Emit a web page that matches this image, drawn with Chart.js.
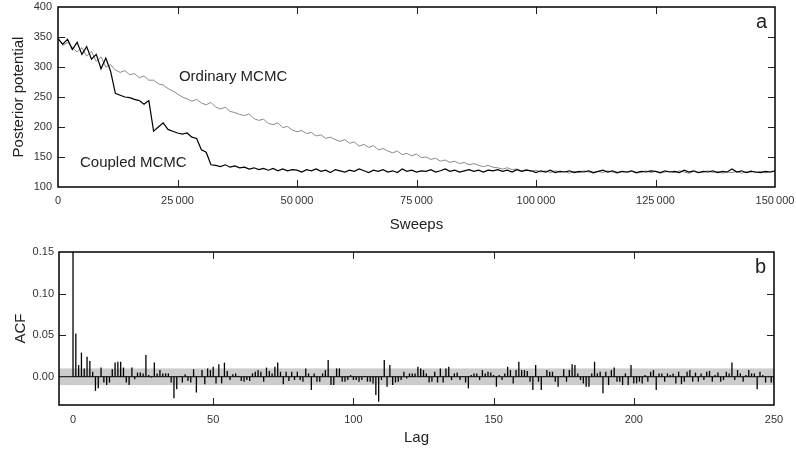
<!DOCTYPE html>
<html>
<head>
  <title>MCMC trace and ACF</title>
  <script src="https://cdn.jsdelivr.net/npm/chart.js"></script>
  <style>
    body { margin: 0; background: #fff; }
    #wrap { position: relative; width: 796px; height: 453px; }
    #topBox { position: absolute; left: 0; top: 0; }
    #bottomBox { position: absolute; left: 0; top: 240px; }
  </style>
</head>
<body>
  <div id="wrap">
    <div id="topBox"><canvas id="traceChart" width="796" height="240"></canvas></div>
    <div id="bottomBox"><canvas id="acfChart" width="796" height="213"></canvas></div>
  </div>

  <script>
    // trace samples are stored every sweepStep sweeps
    const sweepStep = 1000;

    const coupledPotential = [
      347,338,346,329,341,321,334,313,321,297,315,293,256,253,250,249,246,244,238,244,
      193,200,207,196,193,190,188,190,183,181,162,158,137,136,134,137,133,135,132,133,
      130,132,129,131,128,131,127,130,127,129,128,125,129,127,130,126,128,124,129,127,
      125,128,126,130,127,124,128,126,129,125,127,124,130,126,128,125,127,126,129,125,
      127,130,126,128,125,127,129,126,128,125,128,127,129,126,128,125,129,126,128,127,
      124,127,125,128,124,126,125,127,124,126,125,127,124,126,128,125,127,124,126,125,
      127,124,126,125,127,126,124,127,125,126,124,128,125,127,124,126,125,127,124,126,
      125,130,125,127,124,126,125,124,126,125,127
    ];

    const ordinaryPotential = [
      350,336,341,333,325,332,318,326,309,317,300,304,295,291,294,287,289,282,285,278,
      278,272,270,264,260,255,250,247,243,246,240,237,241,233,230,233,226,224,221,219,
      222,214,211,213,206,204,207,199,201,195,192,194,189,191,185,187,181,183,179,176,
      179,173,175,168,171,166,169,162,164,160,157,160,154,156,152,155,149,150,146,148,
      143,145,141,143,139,141,137,139,136,134,136,133,132,130,132,129,130,127,129,126,
      128,125,127,124,127,125,126,123,126,124,127,125,123,126,124,127,125,123,126,124,
      126,123,125,127,124,126,123,125,126,124,127,125,123,126,124,125,127,124,126,123,
      125,124,126,123,125,127,124,126,124,125,126
    ];

    const sweepTicks = [0, 25000, 50000, 75000, 100000, 125000, 150000];
    const potentialTicks = [100, 150, 200, 250, 300, 350, 400];

    // autocorrelation for lags 0..250
    const acfValues = [
      1, 0.052, 0.014, 0.029, 0.010, 0.024, 0.019, 0.006, -0.017, -0.014,
      0.011, -0.007, -0.010, -0.007, 0.009, 0.017, 0.018, 0.018, 0.011, -0.007,
      -0.010, 0.011, -0.003, 0.005, 0.005, 0.004, 0.026, 0.002, -0.001, 0.017,
      0.004, 0.008, 0.004, 0.004, 0.004, -0.007, -0.026, -0.015, 0.001, -0.007,
      0.003, -0.005, -0.007, 0.009, -0.019, 0.000, 0.008, -0.009, 0.010, 0.008,
      0.012, -0.008, 0.015, -0.008, 0.017, 0.007, -0.004, 0.003, 0.004, 0.001,
      -0.005, -0.006, -0.004, -0.005, 0.004, 0.006, 0.008, 0.006, -0.006, 0.011,
      0.007, 0.004, 0.012, 0.017, 0.006, -0.009, 0.006, -0.005, 0.006, -0.004,
      0.006, -0.004, -0.006, 0.010, 0.004, -0.016, 0.004, -0.006, -0.006, 0.004,
      0.008, 0.020, -0.010, -0.010, 0.010, 0.010, -0.006, -0.006, -0.004, 0.002,
      -0.004, -0.004, -0.006, -0.004, 0.001, -0.006, -0.006, -0.008, -0.022, -0.030,
      -0.004, 0.020, -0.012, 0.014, -0.010, -0.007, -0.006, -0.004, 0.006, -0.002,
      0.004, 0.004, 0.004, 0.012, 0.010, 0.008, 0.004, -0.007, -0.006, 0.006,
      -0.007, 0.010, -0.007, 0.010, 0.012, -0.004, 0.004, 0.005, -0.004, 0.001,
      -0.007, -0.014, 0.002, 0.004, 0.004, -0.004, 0.008, 0.004, 0.006, 0.005,
      0.002, -0.012, 0.002, -0.004, 0.004, 0.012, 0.008, -0.008, 0.008, 0.018,
      0.008, 0.008, 0.007, -0.006, -0.016, 0.014, -0.006, -0.016, 0.001, 0.008,
      0.006, 0.006, -0.006, -0.012, 0.001, 0.009, -0.006, 0.008, 0.015, 0.014,
      0.004, -0.004, -0.008, -0.012, -0.012, 0.004, 0.018, 0.004, 0.006, -0.020,
      0.006, -0.010, 0.008, 0.011, -0.006, -0.006, -0.010, 0.004, -0.010, 0.014,
      -0.008, -0.008, -0.006, -0.008, 0.002, -0.006, 0.006, 0.008, -0.016, 0.004,
      0.004, -0.006, 0.004, 0.002, 0.004, -0.008, 0.006, -0.009, -0.006, 0.006,
      0.008, -0.006, 0.005, -0.006, 0.004, -0.004, 0.006, 0.007, -0.006, 0.002,
      0.005, -0.006, -0.004, 0.006, 0.004, 0.017, -0.004, 0.008, 0.004, -0.006,
      0.002, 0.008, 0.004, 0.004, -0.015, 0.006, 0.002, -0.007, 0.001, -0.007,
      -0.007
    ];
    const lagTicks = [0, 50, 100, 150, 200, 250];
    const acfTicks = [0, 0.05, 0.10, 0.15];
    const acfBand = 0.01;

    const FONT = '"Liberation Sans", Arial, Helvetica, sans-serif';
    Chart.defaults.font.family = FONT;
    Chart.defaults.color = '#333';

    function groupDigits(v) {
      return String(v).replace(/\B(?=(\d{3})+(?!\d))/g, '\u2009');
    }

    // frame, inward tick marks, significance band and text labels
    const panelDecor = {
      id: 'panelDecor',
      beforeDatasetsDraw(chart, args, opts) {
        if (!opts.band) return;
        const { ctx, chartArea: a, scales: { x, y } } = chart;
        const y1 = y.getPixelForValue(opts.band);
        const y2 = y.getPixelForValue(-opts.band);
        const y0 = y.getPixelForValue(0);
        ctx.save();
        ctx.fillStyle = '#cccccc';
        ctx.fillRect(a.left, y1, a.right - a.left, y2 - y1);
        ctx.strokeStyle = '#000';
        ctx.lineWidth = 1;
        ctx.beginPath();
        ctx.moveTo(a.left, y0);
        ctx.lineTo(a.right, y0);
        ctx.stroke();
        ctx.restore();
      },
      afterDatasetsDraw(chart, args, opts) {
        const { ctx, chartArea: a, scales: { x, y } } = chart;
        const len = 7;
        ctx.save();
        ctx.strokeStyle = '#222';
        ctx.lineWidth = 1;
        ctx.beginPath();
        opts.xMarks.forEach(v => {
          const px = Math.round(x.getPixelForValue(v)) + 0.5;
          ctx.moveTo(px, a.top); ctx.lineTo(px, a.top + len);
          ctx.moveTo(px, a.bottom); ctx.lineTo(px, a.bottom - len);
        });
        opts.yMarks.forEach(v => {
          const py = Math.round(y.getPixelForValue(v)) + 0.5;
          ctx.moveTo(a.left, py); ctx.lineTo(a.left + len, py);
          ctx.moveTo(a.right, py); ctx.lineTo(a.right - len, py);
        });
        ctx.stroke();

        ctx.strokeStyle = '#000';
        ctx.lineWidth = 1.5;
        ctx.strokeRect(a.left, a.top, a.right - a.left, a.bottom - a.top);

        ctx.fillStyle = '#222';
        ctx.font = '20px ' + FONT;
        ctx.textAlign = 'right';
        ctx.textBaseline = 'alphabetic';
        ctx.fillText(opts.letter, a.right - 8, a.top + 21);

        (opts.notes || []).forEach(n => {
          ctx.font = '15px ' + FONT;
          ctx.textAlign = 'left';
          ctx.fillText(n.text, x.getPixelForValue(n.x), y.getPixelForValue(n.y));
        });
        ctx.restore();
      }
    };

    function noPad(s) {
      s.paddingLeft = 0;
      s.paddingRight = 0;
      s.paddingTop = 0;
      s.paddingBottom = 0;
    }

    function baseAxis(extra) {
      return Object.assign({
        grid: { display: false, drawTicks: false },
        border: { display: false }
      }, extra);
    }

    new Chart(document.getElementById('traceChart'), {
      type: 'line',
      data: {
        datasets: [
          {
            label: 'Coupled MCMC',
            data: coupledPotential.map((v, i) => ({ x: i * sweepStep, y: v })),
            borderColor: '#000',
            borderWidth: 1.2,
            pointRadius: 0,
            tension: 0
          },
          {
            label: 'Ordinary MCMC',
            data: ordinaryPotential.map((v, i) => ({ x: i * sweepStep, y: v })),
            borderColor: '#8a8a8a',
            borderWidth: 1,
            pointRadius: 0,
            tension: 0
          }
        ]
      },
      options: {
        responsive: false,
        animation: false,
        layout: { padding: { left: 0, right: 21, top: 7, bottom: 0 } },
        scales: {
          x: baseAxis({
            type: 'linear', min: 0, max: 150000,
            afterBuildTicks: s => { s.ticks = sweepTicks.map(v => ({ value: v })); },
            afterFit: s => { s.height = 53; noPad(s); },
            ticks: { padding: 7, maxRotation: 0, autoSkip: false, font: { size: 11 }, callback: v => groupDigits(v) },
            title: { display: true, text: 'Sweeps', color: '#222', font: { size: 15 }, padding: { top: 0, bottom: 6 } }
          }),
          y: baseAxis({
            type: 'linear', min: 100, max: 400,
            afterBuildTicks: s => { s.ticks = potentialTicks.map(v => ({ value: v })); },
            afterFit: s => { s.width = 58; noPad(s); },
            ticks: { padding: 6, font: { size: 11 } },
            title: { display: true, text: 'Posterior potential', color: '#222', font: { size: 15 }, padding: { top: 10, bottom: 0 } }
          })
        },
        plugins: {
          legend: { display: false },
          tooltip: { enabled: false },
          panelDecor: {
            xMarks: [25000, 50000, 75000, 100000, 125000],
            yMarks: [150, 200, 250, 300, 350],
            letter: 'a',
            notes: [
              { text: 'Ordinary MCMC', x: 25300, y: 276.7 },
              { text: 'Coupled MCMC', x: 4600, y: 133.3 }
            ]
          }
        }
      },
      plugins: [panelDecor]
    });

    new Chart(document.getElementById('acfChart'), {
      type: 'bar',
      data: {
        datasets: [{
          label: 'ACF',
          data: acfValues.map((v, i) => ({ x: i, y: v })),
          backgroundColor: '#000',
          barThickness: 1.3,
          inflateAmount: 0,
          clip: 0
        }]
      },
      options: {
        responsive: false,
        animation: false,
        layout: { padding: { left: 0, right: 22, top: 12, bottom: 0 } },
        scales: {
          x: baseAxis({
            type: 'linear', min: -5, max: 250, offset: false,
            afterBuildTicks: s => { s.ticks = lagTicks.map(v => ({ value: v })); },
            afterFit: s => { s.height = 48; noPad(s); },
            ticks: { padding: 8, maxRotation: 0, autoSkip: false, font: { size: 11 } },
            title: { display: true, text: 'Lag', color: '#222', font: { size: 15 }, padding: { top: 0, bottom: 6 } }
          }),
          y: baseAxis({
            type: 'linear', min: -0.034, max: 0.15,
            afterBuildTicks: s => { s.ticks = acfTicks.map(v => ({ value: v })); },
            afterFit: s => { s.width = 59; noPad(s); },
            ticks: { padding: 5, font: { size: 11 }, callback: v => v.toFixed(2) },
            title: { display: true, text: 'ACF', color: '#222', font: { size: 15 }, padding: { top: 12, bottom: 0 } }
          })
        },
        plugins: {
          legend: { display: false },
          tooltip: { enabled: false },
          panelDecor: {
            xMarks: [50, 100, 150, 200],
            yMarks: [0.05, 0.10],
            letter: 'b',
            band: acfBand
          }
        }
      },
      plugins: [panelDecor]
    });
  </script>
</body>
</html>
